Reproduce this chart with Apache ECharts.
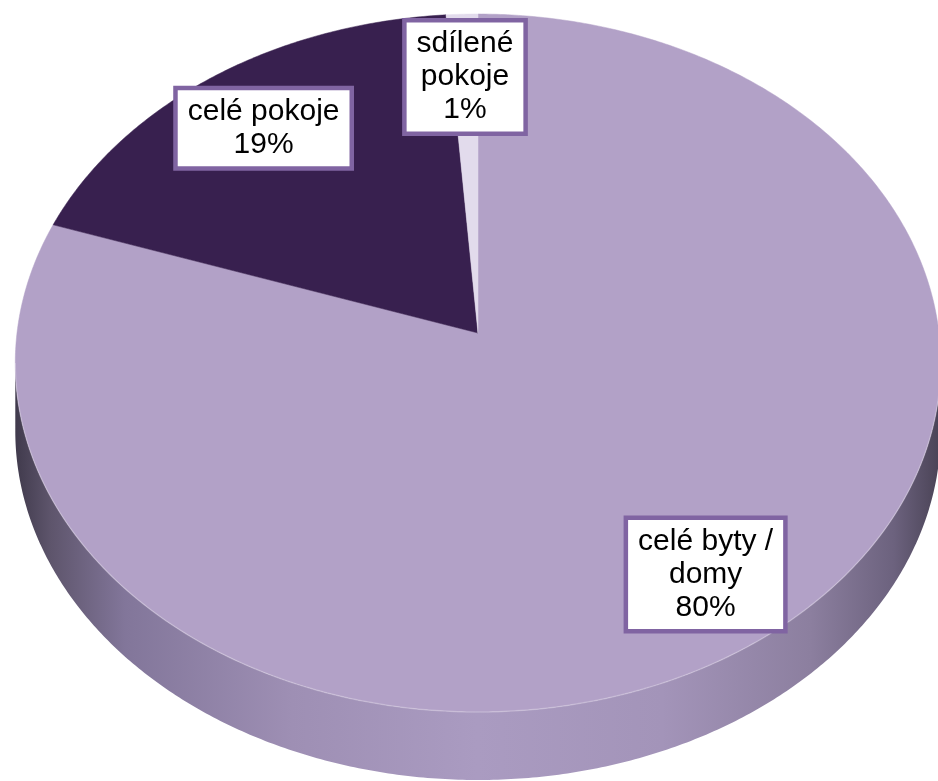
<!DOCTYPE html>
<html>
<head>
<meta charset="utf-8">
<script src="https://cdn.jsdelivr.net/npm/echarts@6/dist/echarts.min.js"></script>
<style>
html,body{margin:0;padding:0;background:#fff;}
#chart{width:938px;height:781px;}
</style>
</head>
<body>
<div id="chart"></div>
<script>
// ---- data ----
const categories = ['celé byty / domy', 'celé pokoje', 'sdílené pokoje'];
const labelTexts = ['celé byty /\ndomy', 'celé pokoje', 'sdílené\npokoje'];
const values = [80.2, 18.6, 1.2];
const topColors = ['#b2a1c7', '#38204f', '#e2dbec'];

// ---- geometry (perspective-projected disc) ----
const X0 = 478, Y0 = 333, A = 461, B = 346.4, C = 0.086, H = 68, LABEL_R = 0.8;
function proj(theta, r) {
  const u = r * Math.sin(theta), v = -r * Math.cos(theta);
  const w = 1 - C * v;
  return [X0 + A * u / w, Y0 + B * v / w];
}
const TH_L = Math.acos(-C);               // right silhouette
const TH_R = 2 * Math.PI - Math.acos(-C); // left silhouette

const total = values.reduce((s, v) => s + v, 0);
const starts = [];
values.reduce((acc, v, i) => { starts[i] = acc; return acc + v; }, 0);

function arcPts(a0, a1, r) {
  const pts = [];
  const n = Math.max(2, Math.ceil((a1 - a0) / (Math.PI / 360)));
  for (let k = 0; k <= n; k++) pts.push(proj(a0 + (a1 - a0) * k / n, r));
  return pts;
}

const sideFill = {
  type: 'linear', x: 14, y: 0, x2: 940, y2: 0, global: true,
  colorStops: [
    { offset: 0, color: '#3f394b' },
    { offset: 0.04, color: '#5e556c' },
    { offset: 0.12, color: '#82769a' },
    { offset: 0.3, color: '#9e8fb4' },
    { offset: 0.5, color: '#aa9bc1' },
    { offset: 0.7, color: '#a394b9' },
    { offset: 0.86, color: '#8c7f9f' },
    { offset: 0.95, color: '#6c627e' },
    { offset: 1, color: '#4a4356' }
  ]
};

const chart = echarts.init(document.getElementById('chart'), null, { renderer: 'canvas' });
chart.setOption({
  backgroundColor: '#ffffff',
  animation: false,
  series: [{
    type: 'custom',
    coordinateSystem: 'none',
    data: values.map((v, i) => ({ value: v, name: categories[i] })),
    renderItem: function (params, api) {
      const i = params.dataIndex;
      const val = api.value(0);
      const a0 = starts[i] / total * 2 * Math.PI;
      const a1 = (starts[i] + val) / total * 2 * Math.PI;
      const children = [];
      // side wall
      const s = Math.max(a0, TH_L), e = Math.min(a1, TH_R);
      if (s < e) {
        const top = arcPts(s, e, 1);
        const bot = top.map(p => [p[0], p[1] + H]).reverse();
        children.push({ type: 'polygon', z2: 1, shape: { points: top.concat(bot) }, style: { fill: sideFill } });
        children.push({ type: 'polyline', z2: 3, shape: { points: top }, style: { stroke: 'rgba(255,255,255,0.22)', lineWidth: 1.5, fill: null } });
      }
      // top face
      const pts = [proj(0, 0)].concat(arcPts(a0, a1, 1));
      children.push({ type: 'polygon', z2: 2, shape: { points: pts }, style: { fill: topColors[i], stroke: topColors[i], lineWidth: 0.5 } });
      // label
      const mid = (a0 + a1) / 2;
      const lp = proj(mid, LABEL_R);
      children.push({
        type: 'text', z2: 100, x: lp[0], y: lp[1] + 3,
        style: {
          text: labelTexts[i] + '\n' + Math.round(val / total * 100) + '%',
          fill: '#000', font: '30px "Liberation Sans", Arial, sans-serif',
          align: 'center', verticalAlign: 'middle', lineHeight: 33,
          backgroundColor: '#ffffff', borderColor: '#8064a2', borderWidth: 4.5,
          padding: [5, 10]
        }
      });
      return { type: 'group', children: children };
    }
  }]
});
</script>
</body>
</html>
